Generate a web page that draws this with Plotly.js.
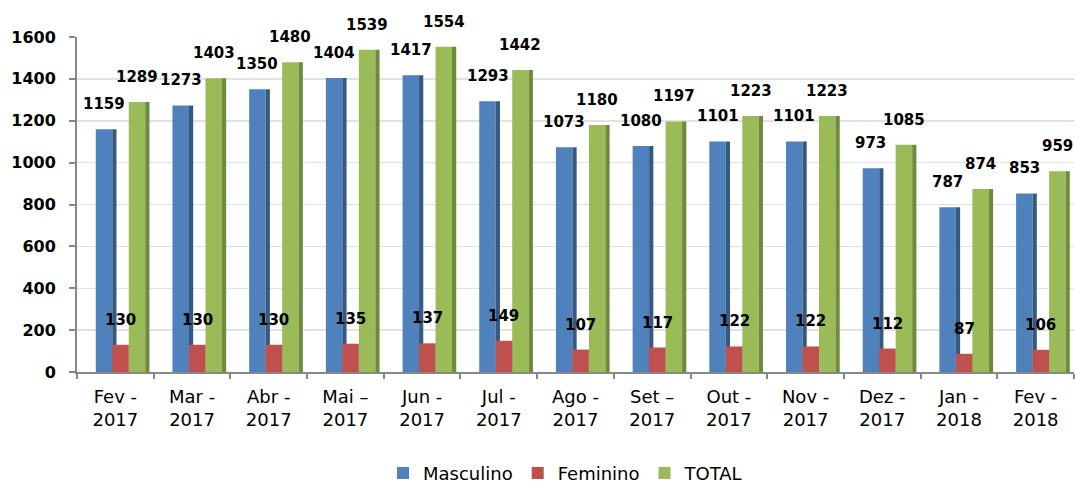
<!DOCTYPE html>
<html>
<head>
<meta charset="utf-8">
<script src="https://cdn.plot.ly/plotly-3.0.1.min.js"></script>
<style>html,body{margin:0;padding:0;background:#fff;}#chart{width:1075px;height:488px;}</style>
</head>
<body>
<div id="chart"></div>
<script>
var categories = ["Fev -<br>2017","Mar -<br>2017","Abr -<br>2017","Mai –<br>2017","Jun -<br>2017","Jul -<br>2017","Ago -<br>2017","Set –<br>2017","Out -<br>2017","Nov -<br>2017","Dez -<br>2017","Jan -<br>2018","Fev -<br>2018"];
var masculino = [1159,1273,1350,1404,1417,1293,1073,1080,1101,1101,973,787,853];
var feminino  = [130,130,130,135,137,149,107,117,122,122,112,87,106];
var total     = [1289,1403,1480,1539,1554,1442,1180,1197,1223,1223,1085,874,959];
var seriesNames = ["Masculino","Feminino","TOTAL"];

var series = [masculino, feminino, total];
var front = ["#4F81BD","#C0504D","#9BBB59"];
var side  = ["#36597F","#8A3532","#6E8A3C"];
var W = 0.215, SW = 0.055;
var offsets = [-0.255, -0.04, 0.175];

var traces = [];
var annotations = [];
series.forEach(function(vals, k){
  traces.push({
    type:'bar', x:categories, y:vals, name:seriesNames[k],
    width:W, offset:offsets[k],
    marker:{color:front[k], line:{width:0}},
    hoverinfo:'y'
  });
  traces.push({
    type:'bar', x:categories, y:vals, showlegend:false,
    width:SW, offset:offsets[k]+W,
    marker:{color:side[k], line:{width:0}},
    hoverinfo:'skip'
  });
  vals.forEach(function(v,i){
    annotations.push({
      xref:'x', yref:'y', x:i+offsets[k]+W/2, y:v,
      text:String(v), showarrow:false, yanchor:'middle', yshift:25,
      font:{family:'DejaVu Sans', size:15, color:'#000', weight:'bold'}
    });
  });
});

var layout = {
  width:1075, height:488,
  margin:{l:77, r:1, t:37, b:116, autoexpand:false},
  paper_bgcolor:'#fff', plot_bgcolor:'#fff',
  barmode:'overlay',
  showlegend:true,
  legend:{orientation:'h', x:0.49, xanchor:'center', yref:'container', y:0.03, yanchor:'middle',
          font:{family:'DejaVu Sans', size:18, color:'#000'}, traceorder:'normal', itemwidth:30,
          bgcolor:'rgba(0,0,0,0)'},
  xaxis:{type:'category', tickson:'boundaries', ticks:'outside', ticklen:5, tickwidth:2,
         tickcolor:'#888', showline:true, linecolor:'#888', linewidth:2, showgrid:false,
         ticklabelstandoff:7,
         tickfont:{family:'DejaVu Sans', size:18, color:'#000'}, range:[-0.5,12.5]},
  yaxis:{range:[0,1600], dtick:200, ticks:'outside', ticklen:6, tickwidth:2, tickcolor:'#888',
         showline:true, linecolor:'#888', linewidth:2, gridcolor:'#e2e2e2', gridwidth:1.5,
         zeroline:false, ticklabelstandoff:10,
         tickfont:{family:'DejaVu Sans', size:16, color:'#000', weight:'bold'}},
  annotations:annotations
};
Plotly.newPlot('chart', traces, layout, {displayModeBar:false, staticPlot:true});
</script>
</body>
</html>
